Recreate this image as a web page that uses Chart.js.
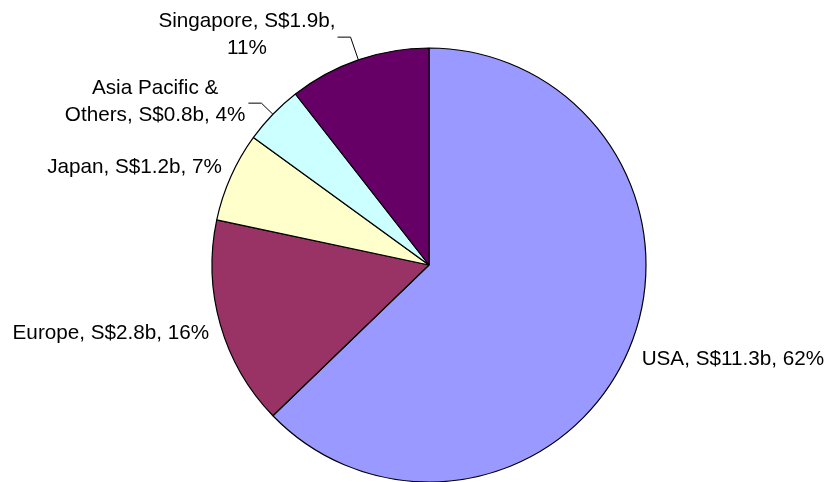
<!DOCTYPE html>
<html>
<head>
<meta charset="utf-8">
<script src="https://cdn.jsdelivr.net/npm/chart.js@4/dist/chart.umd.min.js"></script>
<style>
  html, body { margin: 0; padding: 0; background: #ffffff; }
  #wrap { width: 827px; height: 482px; position: relative; }
</style>
</head>
<body>
<div id="wrap"><canvas id="c" width="827" height="482"></canvas></div>
<script>
// ---- data ----
const categories = ['USA', 'Europe', 'Japan', 'Asia Pacific & Others', 'Singapore'];
const valuesSGDbn = [11.3, 2.8, 1.2, 0.8, 1.9];
const percentLabels = [62, 16, 7, 4, 11];
const sliceColors = ['#9999FF', '#993366', '#FFFFCC', '#CCFFFF', '#660066'];

// ---- label layout (styling only) ----
const FONT_PX = 20.7;
const LINE_H = 27;
const labelLayout = [
  { gap: 14, dx: 0,   dy: 4.5,  align: 'left',  leader: false, wrap: 1000 },
  { gap: 14, dx: 2.3, dy: 4.3,  align: 'right', leader: false, wrap: 1000 },
  { gap: 14, dx: 4,   dy: -3.5, align: 'right', leader: false, wrap: 1000 },
  { gap: 16, dx: 0,   dy: -1,   align: 'right', leader: true, hLen: 13, textGap: 3, wrap: 195 },
  { gap: 24, dx: 0,   dy: -2,   align: 'right', leader: true, hLen: 13, textGap: 2, wrap: 195 }
];

function labelText(i) {
  return categories[i] + ', S$' + valuesSGDbn[i].toFixed(1) + 'b, ' + percentLabels[i] + '%';
}

function wrapText(ctx, text, maxW) {
  const words = text.split(' ');
  const lines = [];
  let cur = '';
  for (const w of words) {
    const t = cur ? cur + ' ' + w : w;
    if (cur && ctx.measureText(t).width > maxW) { lines.push(cur); cur = w; }
    else cur = t;
  }
  if (cur) lines.push(cur);
  return lines;
}

const pieLabels = {
  id: 'pieLabels',
  afterDatasetsDraw(chart) {
    const ctx = chart.ctx;
    const meta = chart.getDatasetMeta(0);
    ctx.save();
    ctx.font = FONT_PX + 'px "Liberation Sans", Arial, sans-serif';
    ctx.fillStyle = '#000000';
    ctx.textBaseline = 'middle';
    meta.data.forEach((arc, i) => {
      const p = arc.getProps(['x', 'y', 'startAngle', 'endAngle', 'outerRadius'], true);
      const a = (p.startAngle + p.endAngle) / 2;
      const cx = Math.cos(a), cy = Math.sin(a);
      const L = labelLayout[i];
      const lines = wrapText(ctx, labelText(i), L.wrap);
      const widths = lines.map(l => ctx.measureText(l).width);
      const maxW = Math.max.apply(null, widths);
      let ax = p.x + cx * (p.outerRadius + L.gap);
      let ay = p.y + cy * (p.outerRadius + L.gap);
      if (L.leader) {
        const sx = p.x + cx * p.outerRadius;
        const sy = p.y + cy * p.outerRadius;
        const ex = ax - L.hLen;
        ctx.beginPath();
        ctx.strokeStyle = '#000000';
        ctx.lineWidth = 1;
        ctx.moveTo(sx, sy);
        ctx.lineTo(ax, ay);
        ctx.lineTo(ex, ay);
        ctx.stroke();
        ax = ex - L.textGap;
      }
      ax += L.dx;
      const blockCy = ay + L.dy;
      let blockCx;
      if (L.align === 'left') blockCx = ax + maxW / 2;
      else blockCx = ax - maxW / 2;
      ctx.textAlign = 'center';
      const n = lines.length;
      lines.forEach((ln, k) => {
        const y = blockCy + (k - (n - 1) / 2) * LINE_H;
        ctx.fillText(ln, blockCx, y);
      });
    });
    ctx.restore();
  }
};

new Chart(document.getElementById('c'), {
  type: 'pie',
  data: {
    labels: categories,
    datasets: [{
      data: valuesSGDbn,
      backgroundColor: sliceColors,
      borderColor: '#000000',
      borderWidth: 1.2
    }]
  },
  options: {
    responsive: false,
    animation: false,
    radius: 217,
    layout: { padding: { left: 31, right: 0, top: 48, bottom: 0 } },
    plugins: {
      legend: { display: false },
      tooltip: { enabled: false }
    }
  },
  plugins: [pieLabels]
});
</script>
</body>
</html>
